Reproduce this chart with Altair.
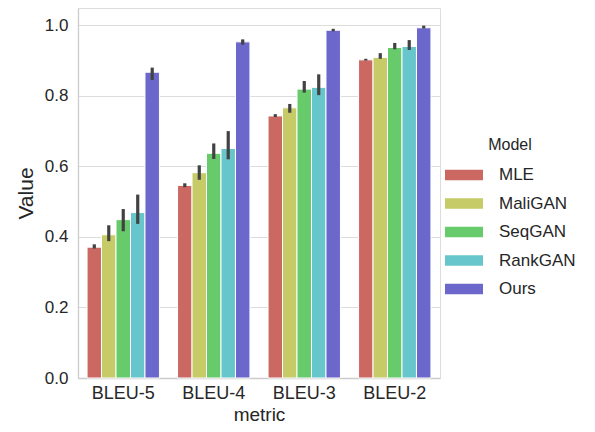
import altair as alt
import pandas as pd

metrics = ["BLEU-5", "BLEU-4", "BLEU-3", "BLEU-2"]
models = ["MLE", "MaliGAN", "SeqGAN", "RankGAN", "Ours"]
colors = ["#cb6861", "#c6cb67", "#67cb6c", "#67c6cb", "#6c67cb"]

values = {
    "MLE":     [0.371, 0.546, 0.743, 0.902],
    "MaliGAN": [0.406, 0.582, 0.766, 0.909],
    "SeqGAN":  [0.449, 0.637, 0.819, 0.937],
    "RankGAN": [0.469, 0.651, 0.824, 0.940],
    "Ours":    [0.867, 0.953, 0.986, 0.993],
}
err_low = {
    "MLE":     [0.367, 0.541, 0.740, 0.900],
    "MaliGAN": [0.388, 0.562, 0.752, 0.905],
    "SeqGAN":  [0.416, 0.621, 0.809, 0.932],
    "RankGAN": [0.437, 0.620, 0.802, 0.930],
    "Ours":    [0.845, 0.945, 0.983, 0.991],
}
err_high = {
    "MLE":     [0.379, 0.552, 0.748, 0.905],
    "MaliGAN": [0.433, 0.603, 0.777, 0.921],
    "SeqGAN":  [0.479, 0.665, 0.842, 0.950],
    "RankGAN": [0.520, 0.700, 0.861, 0.958],
    "Ours":    [0.880, 0.960, 0.990, 0.999],
}

rows = []
for m in models:
    for i, met in enumerate(metrics):
        rows.append({"metric": met, "Model": m, "Value": values[m][i],
                     "lo": err_low[m][i], "hi": err_high[m][i]})
df = pd.DataFrame(rows)

FONT = "Liberation Sans"
TXT = "#262626"

x_enc = alt.X("metric:N", sort=metrics, title="metric",
              scale=alt.Scale(paddingInner=0.2, paddingOuter=0.1),
              axis=alt.Axis(labelAngle=0, labelFontSize=18, titleFontSize=19,
                            labelPadding=6, ticks=False,
                            titleBaseline="alphabetic", titleY=42,
                            labelColor=TXT, titleColor=TXT,
                            titleFontWeight="normal", domainColor="#cccccc",
                            domainWidth=1.3, grid=False))
xo_enc = alt.XOffset("Model:N", sort=models,
                     scale=alt.Scale(paddingInner=0, paddingOuter=0))
y_scale = alt.Scale(domain=[0, 1.049], nice=False)

bars = alt.Chart(df).mark_bar(stroke="white", strokeWidth=1).encode(
    x=x_enc,
    xOffset=xo_enc,
    y=alt.Y("Value:Q", scale=y_scale, title="Value",
            axis=alt.Axis(values=[0, 0.2, 0.4, 0.6, 0.8, 1.0], format=".1f",
                          labelFontSize=17, titleFontSize=21, ticks=False,
                          labelPadding=10, titlePadding=8,
                          labelColor=TXT, titleColor=TXT,
                          titleFontWeight="normal", domainColor="#cccccc",
                          domainWidth=1.3, gridColor="#dcdcdc", gridWidth=1)),
    color=alt.Color("Model:N", sort=models,
                    scale=alt.Scale(domain=models, range=colors),
                    legend=alt.Legend(title="Model", orient="none",
                                      legendX=367, legendY=129,
                                      titleFontSize=16, labelFontSize=17,
                                      titleFontWeight="normal",
                                      titleColor=TXT, labelColor=TXT,
                                      titleAnchor="middle", titlePadding=3,
                                      symbolType="M-1,-0.27H1V0.27H-1Z",
                                      symbolSize=1444, symbolStrokeWidth=0,
                                      labelOffset=16, rowPadding=1.5)),
)

errs = alt.Chart(df).mark_rule(color="#424242", strokeWidth=3.2).encode(
    x=alt.X("metric:N", sort=metrics),
    xOffset=alt.XOffset("Model:N", sort=models),
    y=alt.Y("lo:Q", scale=y_scale),
    y2="hi:Q",
)

chart = alt.layer(bars, errs).properties(
    width=362, height=370,
    autosize=alt.AutoSizeParams(type="none"),
    padding={"left": 70, "top": 0, "right": 145, "bottom": 46},
).configure_view(stroke=None).configure(font=FONT)

chart.save("out.html", embed_options={"renderer": "svg", "actions": False})
